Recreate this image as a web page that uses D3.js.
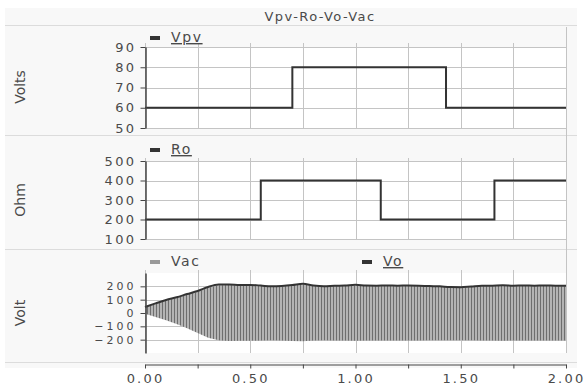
<!DOCTYPE html>
<html>
<head>
<meta charset="utf-8">
<script src="https://cdn.jsdelivr.net/npm/d3@7"></script>
<style>
  body { margin: 0; background: #fff; }
  svg text { font-family: "DejaVu Sans", Verdana, sans-serif; fill: #4a4a4a; }
  .grid line { stroke: #c4c4c4; stroke-width: 1; }
  .yaxis path, .yaxis line, .xaxis path, .xaxis line { stroke: #444; }
</style>
</head>
<body>
<div id="chart"></div>
<script>
// time ticks and grid (seconds)
const timeTicks = [0, 0.5, 1.0, 1.5, 2.0];
const timeGrid = [0, 0.25, 0.5, 0.75, 1.0, 1.25, 1.5, 1.75, 2.0];

// Vpv step signal: [time, value]
const vpvTime = [0, 0.70, 0.70, 1.43, 1.43, 2.0];
const vpvVal = [60, 60, 80, 80, 60, 60];
const vpvTicks = [50, 60, 70, 80, 90];

// Ro step signal
const roTime = [0, 0.55, 0.55, 1.12, 1.12, 1.66, 1.66, 2.0];
const roVal = [200, 200, 400, 400, 200, 200, 400, 400];
const roTicks = [100, 200, 300, 400, 500];

// Vo and Vac envelopes sampled every 0.05 s
const sampleTime = [0, 0.05, 0.10, 0.15, 0.20, 0.25, 0.30, 0.35, 0.40, 0.45,
  0.50, 0.55, 0.60, 0.65, 0.70, 0.75, 0.80, 0.85, 0.90, 0.95,
  1.00, 1.05, 1.10, 1.15, 1.20, 1.25, 1.30, 1.35, 1.40, 1.45,
  1.50, 1.55, 1.60, 1.65, 1.70, 1.75, 1.80, 1.85, 1.90, 1.95, 2.00];
const voVal = [45, 72, 98, 118, 142, 165, 195, 213, 214, 210,
  210, 206, 200, 203, 210, 220, 206, 200, 204, 206,
  212, 206, 205, 206, 205, 206, 205, 202, 200, 195,
  194, 199, 204, 205, 208, 205, 206, 205, 206, 205, 205];
const vacHi = [40, 68, 94, 114, 138, 160, 190, 208, 210, 206,
  206, 202, 196, 199, 206, 214, 202, 196, 200, 202,
  206, 202, 201, 202, 201, 202, 201, 198, 196, 191,
  190, 195, 200, 201, 204, 201, 202, 201, 202, 201, 201];
const vacLo = [-5, -30, -55, -82, -115, -150, -185, -205, -210, -208,
  -208, -206, -205, -206, -210, -212, -206, -205, -206, -206,
  -208, -206, -206, -206, -206, -206, -206, -205, -205, -204,
  -204, -205, -206, -206, -208, -206, -206, -206, -206, -206, -206];
const vacTicks = [-200, -100, 0, 100, 200];

const W = 587, H = 387;
const svg = d3.select('#chart').append('svg')
  .attr('width', W).attr('height', H);

const defs = svg.append('defs');
const pat = defs.append('pattern')
  .attr('id', 'stripes')
  .attr('patternUnits', 'userSpaceOnUse')
  .attr('width', 3).attr('height', 10);
pat.append('rect').attr('width', 3).attr('height', 10).attr('fill', '#b4b4b4');
pat.append('line').attr('x1', 0.5).attr('x2', 0.5).attr('y1', 0).attr('y2', 10)
  .attr('stroke', '#6e6e6e').attr('stroke-width', 1);

// background panels
svg.append('rect').attr('x', 5).attr('y', 8).attr('width', 572).attr('height', 360)
  .attr('fill', '#f8f8f8');
[25, 135, 249, 362].forEach(y => {
  svg.append('line').attr('x1', 5).attr('x2', 577).attr('y1', y + 0.5).attr('y2', y + 0.5)
    .attr('stroke', '#dcdcdc');
});

svg.append('text').attr('x', 320).attr('y', 21)
  .attr('text-anchor', 'middle')
  .attr('font-size', 13).attr('letter-spacing', 1.4)
  .text('Vpv-Ro-Vo-Vac');

const x = d3.scaleLinear().domain([0, 2]).range([145, 566]);

function panel(cfg) {
  const y = d3.scaleLinear().domain(cfg.domain).range([cfg.bottom, cfg.top]);
  const g = svg.append('g');
  g.append('rect').attr('x', x(0)).attr('y', cfg.top)
    .attr('width', x(2) - x(0)).attr('height', cfg.bottom - cfg.top)
    .attr('fill', '#fff');
  const grid = g.append('g').attr('class', 'grid');
  grid.selectAll('.vg').data(timeGrid).join('line')
    .attr('x1', d => Math.round(x(d)) + 0.5).attr('x2', d => Math.round(x(d)) + 0.5)
    .attr('y1', cfg.gridTop).attr('y2', cfg.bottom);
  grid.selectAll('.hg').data(cfg.ticks).join('line')
    .attr('x1', x(0)).attr('x2', x(2))
    .attr('y1', d => Math.round(y(d)) + 0.5).attr('y2', d => Math.round(y(d)) + 0.5);

  cfg.draw(g, y);

  const ax = g.append('g').attr('class', 'yaxis')
    .attr('transform', `translate(${Math.round(x(0)) + 0.5},0)`)
    .call(d3.axisLeft(y).tickValues(cfg.ticks).tickSize(5).tickPadding(4).tickSizeOuter(0));
  ax.select('.domain').attr('stroke-width', 1.5);
  ax.selectAll('text').attr('font-size', cfg.fs).attr('letter-spacing', cfg.ls).attr('fill', '#4a4a4a');

  svg.append('text')
    .attr('transform', `translate(25,${cfg.labelY}) rotate(-90)`)
    .attr('text-anchor', 'middle').attr('font-size', 14)
    .text(cfg.label);

  cfg.legend.forEach(l => {
    svg.append('rect').attr('x', l.x).attr('y', l.y - 6).attr('width', 10).attr('height', 4)
      .attr('fill', l.color);
    svg.append('text').attr('x', l.x + 21).attr('y', l.y)
      .attr('font-size', 14).attr('letter-spacing', 1.6)
      .attr('text-decoration', l.underline ? 'underline' : null)
      .text(l.name);
  });
}

const stepLine = d3.line().x(d => x(d[0])).y(d => d[1]);

panel({
  domain: [50, 90], top: 47, bottom: 128, gridTop: 43, ticks: vpvTicks,
  label: 'Volts', labelY: 87, fs: 13, ls: 2.4,
  legend: [{ name: 'Vpv', x: 150, y: 42, color: '#333', underline: true }],
  draw: (g, y) => {
    g.append('path')
      .datum(vpvTime.map((t, i) => [t, y(vpvVal[i])]))
      .attr('fill', 'none').attr('stroke', '#333').attr('stroke-width', 2)
      .attr('d', stepLine);
  }
});

panel({
  domain: [100, 500], top: 161, bottom: 239, gridTop: 158, ticks: roTicks,
  label: 'Ohm', labelY: 200, fs: 13, ls: 2.4,
  legend: [{ name: 'Ro', x: 150, y: 154, color: '#333', underline: true }],
  draw: (g, y) => {
    g.append('path')
      .datum(roTime.map((t, i) => [t, y(roVal[i])]))
      .attr('fill', 'none').attr('stroke', '#333').attr('stroke-width', 2)
      .attr('d', stepLine);
  }
});

panel({
  domain: [-300, 300], top: 273, bottom: 353, gridTop: 270, ticks: vacTicks,
  label: 'Volt', labelY: 313, fs: 11, ls: 3,
  legend: [
    { name: 'Vac', x: 150, y: 266, color: '#999', underline: false },
    { name: 'Vo', x: 362, y: 266, color: '#333', underline: true }
  ],
  draw: (g, y) => {
    const band = d3.area()
      .x((d, i) => x(sampleTime[i]))
      .y0((d, i) => y(vacLo[i]))
      .y1((d, i) => y(vacHi[i]));
    g.append('path').datum(sampleTime)
      .attr('fill', 'url(#stripes)').attr('d', band);
    const vo = d3.line().curve(d3.curveMonotoneX)
      .x((d, i) => x(sampleTime[i]))
      .y((d, i) => y(voVal[i]));
    g.append('path').datum(sampleTime)
      .attr('fill', 'none').attr('stroke', '#333').attr('stroke-width', 2)
      .attr('d', vo);
  }
});

// right frame line
svg.append('line').attr('x1', 566.5).attr('x2', 566.5).attr('y1', 27).attr('y2', 353)
  .attr('stroke', '#c4c4c4');

// bottom time axis
const xa = svg.append('g').attr('class', 'xaxis')
  .attr('transform', 'translate(0,364.5)')
  .call(d3.axisBottom(x).tickValues(timeGrid).tickSize(4).tickPadding(5).tickSizeOuter(0)
    .tickFormat(d => timeTicks.includes(d) ? d3.format('.2f')(d) : ''));
xa.selectAll('text').attr('font-size', 13).attr('letter-spacing', 2.2).attr('fill', '#4a4a4a');
</script>
</body>
</html>
